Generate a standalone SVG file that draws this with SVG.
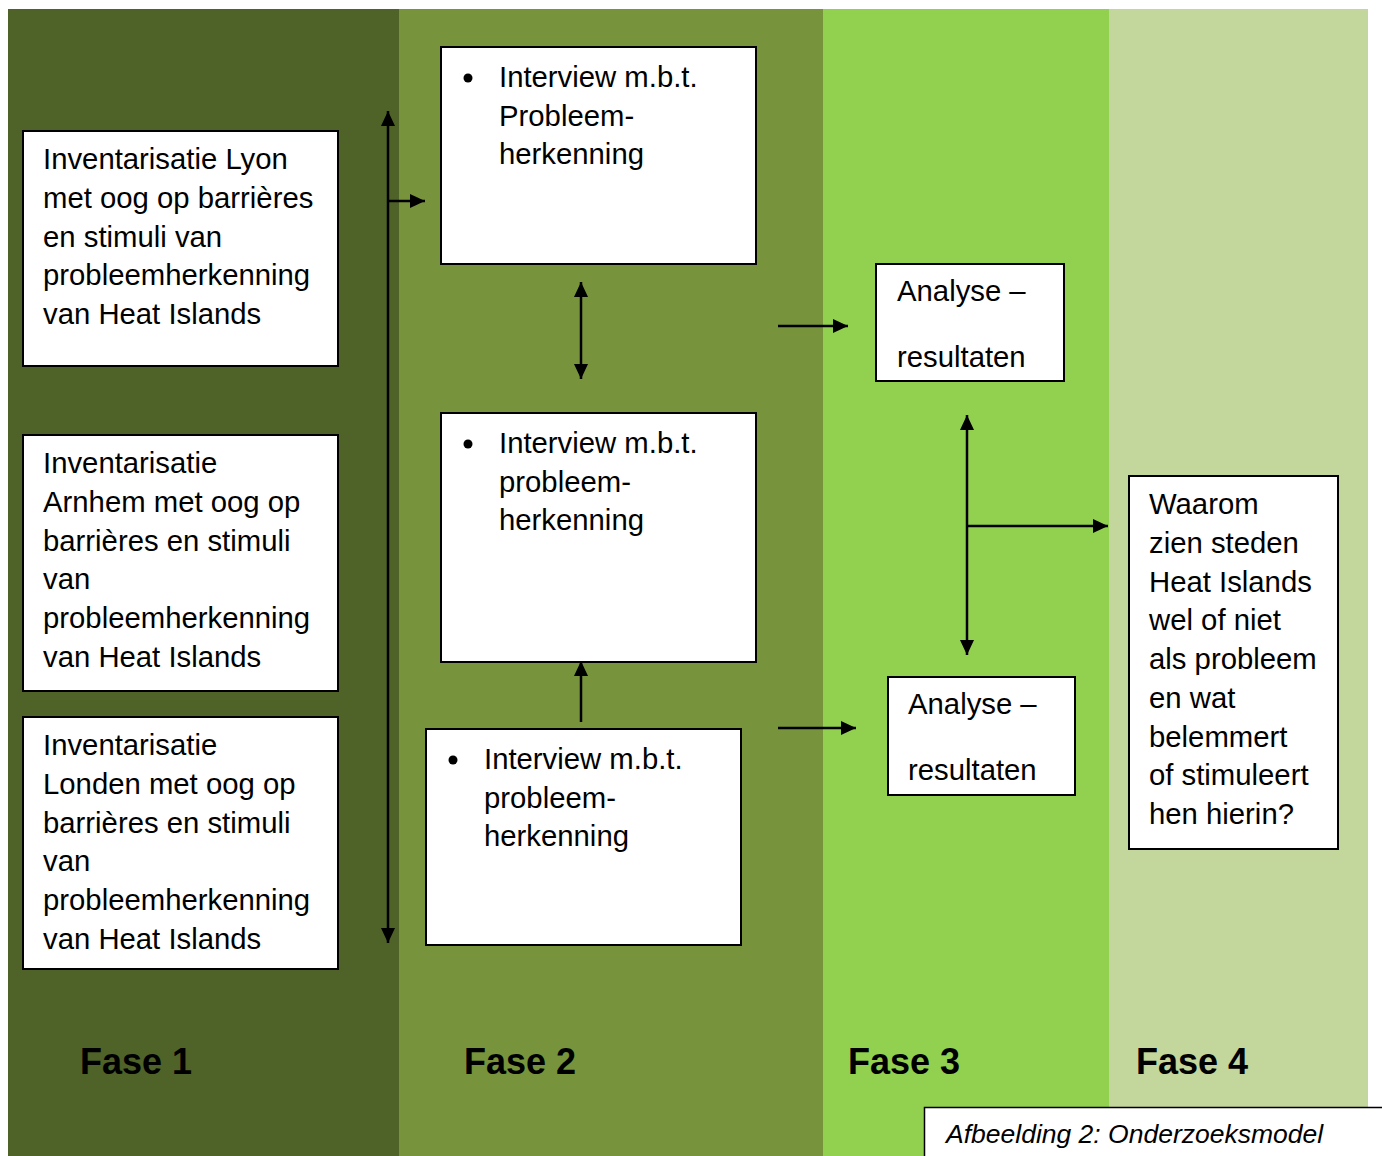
<svg xmlns="http://www.w3.org/2000/svg" width="1382" height="1156" viewBox="0 0 1382 1156">
<style>
.box{fill:#fff;stroke:#000;stroke-width:2}
.t{font-family:"Liberation Sans",Arial,sans-serif;font-size:29.3px;fill:#000}
.fase{font-family:"Liberation Sans",Arial,sans-serif;font-size:36px;font-weight:bold;fill:#000}
.cap{font-family:"Liberation Sans",Arial,sans-serif;font-size:26.5px;font-style:italic;fill:#000}
.c{stroke:#000;stroke-width:2.5;fill:none}
</style>
<defs>
<marker id="ah" markerUnits="userSpaceOnUse" markerWidth="16" markerHeight="14" refX="15" refY="7" orient="auto-start-reverse">
<path d="M0,0 L15,7 L0,14 z" fill="#000"/>
</marker>
</defs>
<rect width="1382" height="1156" fill="#fff"/>
<g id="background">
<rect x="8" y="9" width="391" height="1147" fill="#4F6228"/>
<rect x="399" y="9" width="424" height="1147" fill="#77933C"/>
<rect x="823" y="9" width="286" height="1147" fill="#92D050"/>
<rect x="1109" y="9" width="259" height="1147" fill="#C3D69B"/>
</g>
<g id="connectors">
<line class="c" x1="388" y1="111" x2="388" y2="943" marker-start="url(#ah)" marker-end="url(#ah)"/>
<line class="c" x1="388" y1="201" x2="425" y2="201" marker-end="url(#ah)"/>
<line class="c" x1="581" y1="282" x2="581" y2="379" marker-start="url(#ah)" marker-end="url(#ah)"/>
<line class="c" x1="581" y1="722" x2="581" y2="661" marker-end="url(#ah)"/>
<line class="c" x1="778" y1="326" x2="848" y2="326" marker-end="url(#ah)"/>
<line class="c" x1="778" y1="728" x2="856" y2="728" marker-end="url(#ah)"/>
<line class="c" x1="967" y1="415" x2="967" y2="655" marker-start="url(#ah)" marker-end="url(#ah)"/>
<line class="c" x1="967" y1="526" x2="1108" y2="526" marker-end="url(#ah)"/>
</g>
<g id="lyon">
<rect class="box" x="23" y="131" width="315" height="235"/>
<text class="t"><tspan x="43" y="169">Inventarisatie Lyon</tspan><tspan x="43" y="207.75">met oog op barrières</tspan><tspan x="43" y="246.5">en stimuli van</tspan><tspan x="43" y="285.25">probleemherkenning</tspan><tspan x="43" y="324">van Heat Islands</tspan></text>
</g>
<g id="arnhem">
<rect class="box" x="23" y="435" width="315" height="256"/>
<text class="t"><tspan x="43" y="473">Inventarisatie</tspan><tspan x="43" y="511.75">Arnhem met oog op</tspan><tspan x="43" y="550.5">barrières en stimuli</tspan><tspan x="43" y="589.25">van</tspan><tspan x="43" y="628">probleemherkenning</tspan><tspan x="43" y="666.75">van Heat Islands</tspan></text>
</g>
<g id="londen">
<rect class="box" x="23" y="717" width="315" height="252"/>
<text class="t"><tspan x="43" y="755">Inventarisatie</tspan><tspan x="43" y="793.75">Londen met oog op</tspan><tspan x="43" y="832.5">barrières en stimuli</tspan><tspan x="43" y="871.25">van</tspan><tspan x="43" y="910">probleemherkenning</tspan><tspan x="43" y="948.75">van Heat Islands</tspan></text>
</g>
<g id="interview1">
<rect class="box" x="441" y="47" width="315" height="217"/>
<circle cx="468" cy="78" r="4.5" fill="#000"/>
<text class="t"><tspan x="499" y="87">Interview m.b.t.</tspan><tspan x="499" y="125.5">Probleem-</tspan><tspan x="499" y="164">herkenning</tspan></text>
</g>
<g id="interview2">
<rect class="box" x="441" y="413" width="315" height="249"/>
<circle cx="468" cy="444" r="4.5" fill="#000"/>
<text class="t"><tspan x="499" y="453">Interview m.b.t.</tspan><tspan x="499" y="491.5">probleem-</tspan><tspan x="499" y="530">herkenning</tspan></text>
</g>
<g id="interview3">
<rect class="box" x="426" y="729" width="315" height="216"/>
<circle cx="453" cy="760" r="4.5" fill="#000"/>
<text class="t"><tspan x="484" y="769">Interview m.b.t.</tspan><tspan x="484" y="807.5">probleem-</tspan><tspan x="484" y="846">herkenning</tspan></text>
</g>
<g id="analyse1">
<rect class="box" x="876" y="264" width="188" height="117"/>
<text class="t"><tspan x="897" y="300.5">Analyse –</tspan><tspan x="897" y="366.5">resultaten</tspan></text>
</g>
<g id="analyse2">
<rect class="box" x="888" y="677" width="187" height="118"/>
<text class="t"><tspan x="908" y="713.5">Analyse –</tspan><tspan x="908" y="779.5">resultaten</tspan></text>
</g>
<g id="waarom">
<rect class="box" x="1129" y="476" width="209" height="373"/>
<text class="t"><tspan x="1149" y="514">Waarom</tspan><tspan x="1149" y="552.75">zien steden</tspan><tspan x="1149" y="591.5">Heat Islands</tspan><tspan x="1149" y="630.25">wel of niet</tspan><tspan x="1149" y="669">als probleem</tspan><tspan x="1149" y="707.75">en wat</tspan><tspan x="1149" y="746.5">belemmert</tspan><tspan x="1149" y="785.25">of stimuleert</tspan><tspan x="1149" y="824">hen hierin?</tspan></text>
</g>
<g id="fases">
<text class="fase" x="80" y="1074">Fase 1</text>
<text class="fase" x="464" y="1074">Fase 2</text>
<text class="fase" x="848" y="1074">Fase 3</text>
<text class="fase" x="1136" y="1074">Fase 4</text>
</g>
<g id="caption">
<rect x="924.5" y="1107.5" width="470" height="60" fill="#fff" stroke="#000" stroke-width="1.5"/>
<text class="cap" x="946" y="1143">Afbeelding 2: Onderzoeksmodel</text>
</g>
</svg>
